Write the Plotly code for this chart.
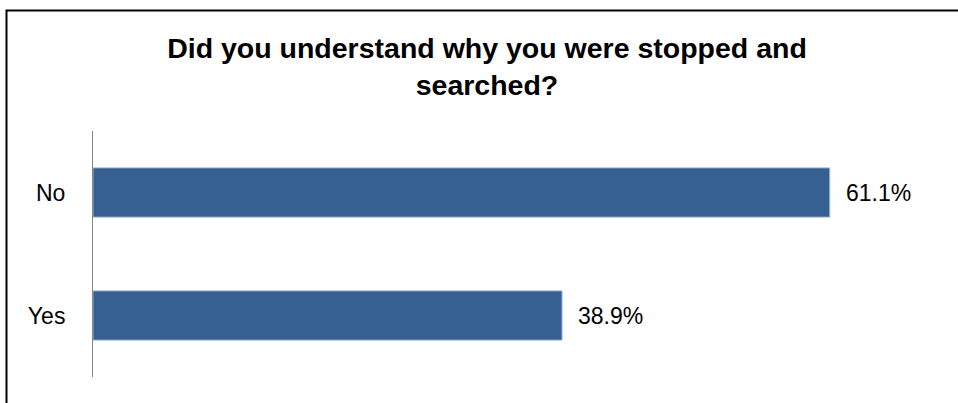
import plotly.graph_objects as go

categories = ["Yes", "No"]
values = [38.9, 61.1]
value_labels = ["38.9%", "61.1%"]
title_text = "<b>Did you understand why you were stopped and<br>searched?</b>"

W, H = 958, 403
L, R, T, B = 93, 21, 131, 26
plot_w = W - L - R

fig = go.Figure(go.Bar(
    y=categories, x=values, orientation="h",
    marker=dict(color="#366092", line=dict(color="#95b3d7", width=1)),
    width=0.4, hoverinfo="skip",
))

for c, v, t in zip(categories, values, value_labels):
    fig.add_annotation(x=v, y=c, text=t, showarrow=False, xanchor="left",
                       xshift=14, font=dict(family="Liberation Sans, Arial", size=23, color="#000"))

def px2paper_x(px):
    return (px - L) / plot_w

def px2paper_y(py):
    return (H - B - py) / (H - T - B)

# outer chart border
fig.add_shape(type="rect", xref="paper", yref="paper",
              x0=px2paper_x(6.5), x1=px2paper_x(970), y0=px2paper_y(420), y1=px2paper_y(10.5),
              line=dict(color="#000", width=2), fillcolor="rgba(0,0,0,0)", layer="above")

fig.update_layout(
    width=W, height=H,
    margin=dict(l=L, r=R, t=T, b=B, pad=0),
    paper_bgcolor="white", plot_bgcolor="white",
    showlegend=False,
    title=dict(text=title_text, x=px2paper_x(487), xref="paper", xanchor="center",
               y=1 - 58 / H, yref="container", yanchor="top",
               font=dict(family="Liberation Sans, Arial", size=28.5, color="#000")),
    xaxis=dict(range=[0, 70], visible=False, fixedrange=True),
    yaxis=dict(categoryorder="array", categoryarray=categories,
               showline=True, linecolor="#868686", linewidth=1,
               showgrid=False, zeroline=False, ticks="", ticklabelstandoff=22,
               tickfont=dict(family="Liberation Sans, Arial", size=23, color="#000")),
    bargap=0.6,
)

fig.write_html("out.html")
